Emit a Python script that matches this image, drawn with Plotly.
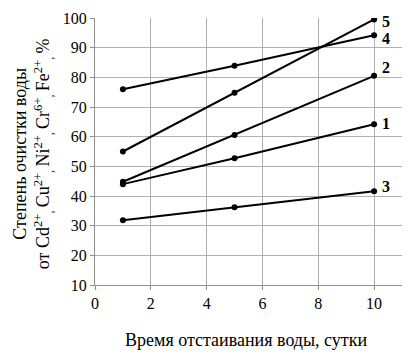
import plotly.graph_objects as go

days = [1, 5, 10]
s1 = [44, 52.7, 64.2]
s2 = [44.8, 60.6, 80.5]
s3 = [31.8, 36.2, 41.6]
s4 = [76, 83.9, 94.2]
s5 = [55, 74.8, 99.5]
series = [("1", s1), ("2", s2), ("3", s3), ("4", s4), ("5", s5)]
x_ticks = [0, 2, 4, 6, 8, 10]
y_ticks = [10, 20, 30, 40, 50, 60, 70, 80, 90, 100]

font = "Liberation Serif, Times New Roman, serif"
fig = go.Figure()
for name, vals in series:
    fig.add_trace(go.Scatter(x=days, y=vals, mode="lines+markers", name=name,
                             line=dict(color="black", width=2),
                             marker=dict(color="black", size=6)))

label_offsets = {"1": (6, 1), "2": (6, 8), "3": (6, 5), "4": (6, -3), "5": (6, -2)}
for name, vals in series:
    dx, dy = label_offsets[name]
    fig.add_annotation(x=days[-1], y=vals[-1], text="<b>%s</b>" % name, showarrow=False,
                       xanchor="left", xshift=dx, yshift=dy,
                       font=dict(family=font, size=16, color="black"))

ytitle = ("Степень очистки воды<br>от Cd<sup>2+</sup><sub>, </sub>Cu<sup>2+</sup><sub>, </sub>"
          "Ni<sup>2+</sup><sub>, </sub>Cr<sup>6+</sup><sub>, </sub>Fe<sup>2+</sup><sub>, </sub>%")
fig.add_annotation(xref="paper", yref="paper", x=0, y=0.49, xanchor="right", yanchor="middle",
                   xshift=-38, textangle=-90, text=ytitle, showarrow=False, borderpad=0,
                   font=dict(family=font, size=18, color="black"))
fig.add_annotation(xref="paper", yref="paper", x=0.5, y=0, xanchor="center", yanchor="middle",
                   xshift=-3, yshift=-55, text="Время отстаивания воды, сутки", showarrow=False,
                   font=dict(family=font, size=18, color="black"))

fig.update_layout(
    width=415, height=360,
    margin=dict(l=87, r=21, t=10, b=83),
    paper_bgcolor="white", plot_bgcolor="white",
    showlegend=False,
    font=dict(family=font, size=15, color="black"),
)
fig.update_xaxes(range=[0, 11], tickvals=x_ticks, showgrid=True, gridcolor="#b0b0b0",
                 gridwidth=1, showline=True, linecolor="#909090", ticks="outside",
                 ticklen=4, tickcolor="#909090", zeroline=False, automargin=False,
                 tickfont=dict(family=font, size=16))
fig.update_yaxes(range=[10, 100], tickvals=y_ticks, showgrid=True, gridcolor="#b0b0b0",
                 gridwidth=1, showline=True, linecolor="#909090", ticks="outside",
                 ticklen=4, tickcolor="#909090", zeroline=False, automargin=False,
                 ticklabeloverflow="allow",
                 tickfont=dict(family=font, size=16))

fig.write_html("out.html")
